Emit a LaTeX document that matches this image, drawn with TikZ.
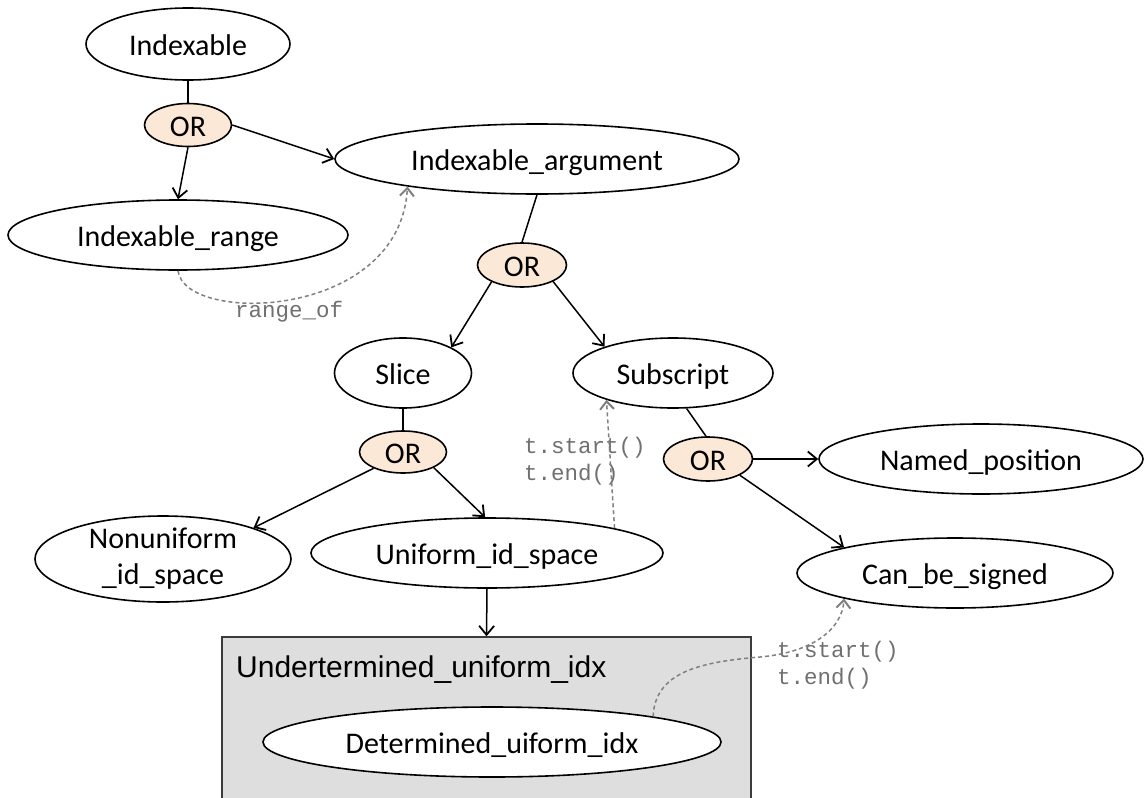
\documentclass[tikz,border=0pt]{standalone}
\usepackage{fontspec}
\setmainfont{Carlito}
\newfontfamily\boxfont{Liberation Sans}
\newfontfamily\codefont{Liberation Mono}
\usetikzlibrary{shapes.geometric,arrows.meta}
\definecolor{orfill}{RGB}{252,232,214}
\definecolor{boxfill}{RGB}{222,222,222}
\definecolor{boxline}{RGB}{60,60,60}
\definecolor{dgray}{RGB}{128,128,128}
\definecolor{tgray}{RGB}{112,112,112}
\begin{document}
\begin{tikzpicture}[x=1pt,y=-1pt,
  ell/.style={ellipse,draw=black,line width=1.6pt,fill=white,inner sep=0pt,
    font=\fontsize{30pt}{36pt}\selectfont,text height=23pt,text depth=0pt},
  ornode/.style={ell,fill=orfill},
  conn/.style={line width=1.5pt,draw=black},
  arr/.style={conn,-{Straight Barb[length=9pt,width=15pt,line width=1.8pt]}},
  dasharr/.style={draw=dgray,line width=1.5pt,dash pattern=on 4pt off 3pt,
    -{Straight Barb[length=8pt,width=14pt,line width=2pt]}},
  code/.style={text=tgray,font=\codefont\fontsize{22.5pt}{27pt}\selectfont,inner sep=0pt,anchor=base west},
  boxstyle/.style={rectangle,draw=boxline,line width=1.5pt,fill=boxfill,inner sep=0pt},
  boxtitle/.style={font=\boxfont\fontsize{30pt}{34pt}\selectfont,inner sep=0pt,anchor=base west}
]
\useasboundingbox (0,0) rectangle (1144,798);
\fill[white] (0,0) rectangle (1144,798);

% container box
\node[boxstyle,minimum width=529pt,minimum height=168pt] (box) at (486.5,721) {};
\node[boxtitle] (boxtitle) at (236,677) {Undertermined\_uniform\_idx};

% ellipse nodes
\node[ell,minimum width=204pt,minimum height=72pt] (idx) at (188,44) {Indexable};
\node[ornode,minimum width=87pt,minimum height=43pt] (or1) at (188,125) {OR};
\node[ell,minimum width=340pt,minimum height=70pt] (range) at (178,235) {Indexable\_range};
\node[ell,minimum width=404pt,minimum height=70pt] (arg) at (537,159) {Indexable\_argument};
\node[ornode,minimum width=89pt,minimum height=44pt] (or2) at (522,265) {OR};
\node[ell,minimum width=137pt,minimum height=70pt] (slice) at (403,373) {Slice};
\node[ell,minimum width=200pt,minimum height=70pt] (sub) at (673,373) {Subscript};
\node[ornode,minimum width=87pt,minimum height=42pt] (or3) at (403,452) {OR};
\node[ornode,minimum width=89pt,minimum height=44pt] (or4) at (708,459) {OR};
\node[ell,minimum width=324pt,minimum height=70pt] (named) at (981,459) {Named\_position};
\node[ell,minimum width=316pt,minimum height=70pt] (can) at (955,573) {Can\_be\_signed};
\node[ell,minimum width=256pt,minimum height=86pt,align=center,text height={},text depth={},inner ysep=-2pt] (nonu) at (163,559) {Nonuniform\\\_id\_space};
\node[ell,minimum width=352pt,minimum height=70pt] (usp) at (487,553) {Uniform\_id\_space};
\node[ell,minimum width=458pt,minimum height=70pt] (det) at (492,742) {Determined\_uiform\_idx};

% code labels
\node[code] (rangeof) at (235,317) {range\_of};
\node[code] (ts1) at (524,453) {t.start()};
\node[code] (te1) at (524,480) {t.end()};
\node[code] (ts2) at (777,657) {t.start()};
\node[code] (te2) at (777,684) {t.end()};

% solid connectors
\draw[conn] (idx.south) -- (or1.north);
\draw[arr] (or1.south) -- (range.north);
\draw[arr] (or1.east) -- (arg.west);
\draw[conn] (arg.south) -- (or2.north);
\draw[arr] (or2.209) -- (slice.28);
\draw[arr] (or2.332) -- (sub.159);
\draw[conn] (slice.south) -- (or3.north);
\draw[arr] (or3.209) -- (nonu.19);
\draw[arr] (or3.333) -- (usp.93);
\draw[conn] (sub.291) -- (or4.95);
\draw[arr] (or4.east) -- (named.west);
\draw[arr] (or4.333) -- (can.167);
\draw[arr] (usp.south) -- (box.north);

% dashed connectors
\draw[dasharr] (range.south) .. controls (185,325) and (400,320) .. (arg.192);
\draw[dasharr] (usp.11.75) -- (sub.202);
\draw[dasharr] (det.9.5) .. controls (655,672) and (700,662) .. (760,657)
  .. controls (815,652) and (842,628) .. (can.193);
\end{tikzpicture}
\end{document}
